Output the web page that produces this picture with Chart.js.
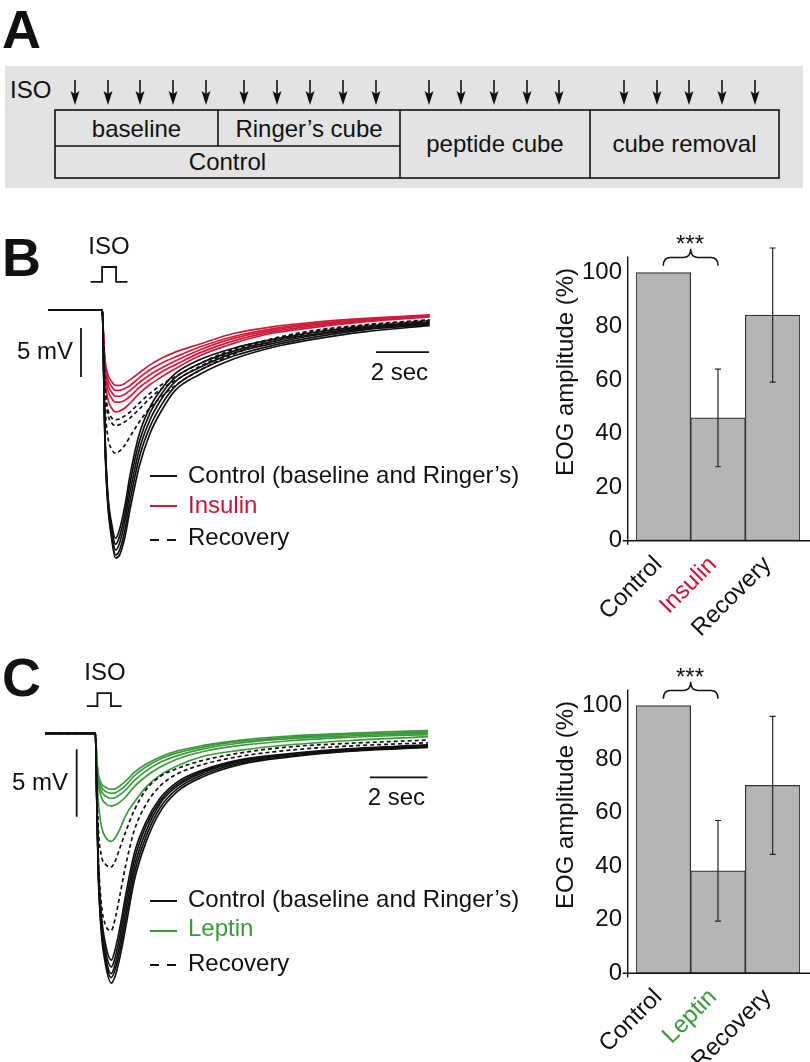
<!DOCTYPE html>
<html><head><meta charset="utf-8">
<script src="https://cdn.jsdelivr.net/npm/chart.js@4.4.1/dist/chart.umd.min.js"></script>
<style>
html,body{margin:0;padding:0;background:#fff;}
#page{position:relative;width:810px;height:1062px;overflow:hidden;font-family:"Liberation Sans",Arial,Helvetica,sans-serif;color:#111;}
.abs{position:absolute;white-space:nowrap;}
.lbl{font-size:24px;line-height:28px;}
.panel{font-size:54px;font-weight:bold;line-height:54px;}
canvas{position:absolute;}
.ln{position:absolute;height:0;border-top:2px solid #111;}
.ytitle{position:absolute;width:300px;text-align:center;font-size:24px;line-height:28px;transform:rotate(-90deg);transform-origin:50% 50%;}
</style></head><body><div id="page">

<svg class="abs" style="left:0;top:0" width="810" height="200" font-family="Liberation Sans, Arial, sans-serif" font-size="24" fill="#111">
  <rect x="5" y="66" width="798" height="122" fill="#e3e3e3"/>
  <g stroke="#111" stroke-width="1.6" fill="none">
    <rect x="55" y="110" width="724" height="68"/>
    <line x1="55" y1="146" x2="400" y2="146"/>
    <line x1="218" y1="110" x2="218" y2="146"/>
    <line x1="400" y1="110" x2="400" y2="178"/>
    <line x1="590" y1="110" x2="590" y2="178"/>
  </g>
  <text x="10" y="98">ISO</text>
  <text x="136.5" y="137" text-anchor="middle">baseline</text>
  <text x="309" y="137" text-anchor="middle">Ringer’s cube</text>
  <text x="227.5" y="170" text-anchor="middle">Control</text>
  <text x="495" y="152" text-anchor="middle">peptide cube</text>
  <text x="684.5" y="152" text-anchor="middle">cube removal</text>
  <g id="arrows"></g>
</svg>

<div class="abs panel" style="left:2px;top:230px">B</div>
<div class="abs panel" style="left:2px;top:2px">A</div>
<div class="abs panel" style="left:2px;top:650px">C</div>

<canvas id="trB" width="398" height="319" style="left:40px;top:256px;width:398px;height:319px"></canvas>
<canvas id="trC" width="401" height="312" style="left:36px;top:685px;width:401px;height:312px"></canvas>
<canvas id="barB" width="270" height="440" style="left:540px;top:220px;width:270px;height:440px"></canvas>
<canvas id="barC" width="270" height="409" style="left:540px;top:653px;width:270px;height:409px"></canvas>

<div class="abs lbl" style="left:79px;width:60px;text-align:center;top:232px">ISO</div>
<div class="abs lbl" style="left:75px;width:60px;text-align:center;top:658px">ISO</div>
<div class="abs lbl" style="left:0;width:73px;text-align:right;top:337px">5 mV</div>
<div class="abs lbl" style="left:0;width:68px;text-align:right;top:768px">5 mV</div>
<div class="abs lbl" style="left:328px;width:100px;text-align:right;top:358px">2 sec</div>
<div class="abs lbl" style="left:325px;width:100px;text-align:right;top:783px">2 sec</div>

<div class="ln" style="left:150px;width:27px;top:475px"></div>
<div class="abs lbl" style="left:188px;top:461px">Control (baseline and Ringer’s)</div>
<div class="ln" style="left:150px;width:27px;top:505px;border-color:#d01c3c"></div>
<div class="abs lbl" style="left:188px;top:491px;color:#c8163a">Insulin</div>
<div class="ln" style="left:150px;width:9px;top:539px"></div>
<div class="ln" style="left:167px;width:9px;top:539px"></div>
<div class="abs lbl" style="left:188px;top:523px">Recovery</div>

<div class="ln" style="left:150px;width:27px;top:900px"></div>
<div class="abs lbl" style="left:188px;top:885px">Control (baseline and Ringer’s)</div>
<div class="ln" style="left:150px;width:27px;top:930px;border-color:#3c9a3c"></div>
<div class="abs lbl" style="left:188px;top:914px;color:#3a9a3a">Leptin</div>
<div class="ln" style="left:150px;width:9px;top:964px"></div>
<div class="ln" style="left:167px;width:9px;top:964px"></div>
<div class="abs lbl" style="left:188px;top:949px">Recovery</div>

<div class="ytitle" style="left:415px;top:358px">EOG amplitude (%)</div>
<div class="ytitle" style="left:415px;top:791px">EOG amplitude (%)</div>
<div class="abs lbl" style="left:660px;width:60px;text-align:center;top:230px">***</div>
<div class="abs lbl" style="left:660px;width:60px;text-align:center;top:663px">***</div>

<script>
// ---------------- DATA ----------------
// Panel A: ISO application marks (one arrow per trial)
const isoArrowX = [75,108,140,173,206,244,277,310,343,376,429,461,494,527,559,624,657,689,722,755];

// Panel B traces: time (s) and EOG (mV)
const timeB = [0, 2.05, 2.10, 2.15, 2.25, 2.40, 2.55, 2.70, 2.90, 3.10, 3.45, 3.85, 4.30, 4.80, 5.70, 7.00, 8.50, 10.0, 12.0, 14.4];
const ctrlB1 = [0,0,-5.5,-12.5,-18.5,-21.8,-23.3,-22.4,-20.0,-16.8,-12.6,-9.9,-8.0,-6.5,-5.1,-3.9,-3.0,-2.3,-1.7,-1.2];
const ctrlB2 = [0,0,-5.8,-12.8,-18.8,-22.2,-23.9,-23.1,-20.8,-17.6,-13.4,-10.5,-8.5,-6.9,-5.5,-4.2,-3.2,-2.5,-1.8,-1.3];
const ctrlB3 = [0,0,-6.0,-13.0,-19.0,-22.6,-24.5,-23.8,-21.6,-18.5,-14.2,-11.2,-9.0,-7.3,-5.9,-4.4,-3.4,-2.6,-1.9,-1.4];
const ctrlB4 = [0,0,-6.2,-13.3,-19.3,-23.0,-25.0,-24.5,-22.5,-19.4,-15.0,-11.9,-9.6,-7.8,-6.2,-4.7,-3.6,-2.8,-2.0,-1.5];
const ctrlB5 = [0,0,-6.4,-13.6,-19.6,-23.3,-25.3,-25.0,-23.2,-20.3,-15.9,-12.6,-10.2,-8.2,-6.6,-5.0,-3.8,-3.0,-2.2,-1.6];
const insB1 = [0,0,-3.0,-5.0,-6.5,-7.3,-7.7,-7.7,-7.5,-7.1,-6.4,-5.6,-4.9,-4.3,-3.5,-2.4,-1.7,-1.25,-0.85,-0.5];
const insB2 = [0,0,-3.2,-5.4,-7.0,-7.8,-8.2,-8.2,-8.0,-7.7,-6.9,-6.1,-5.4,-4.8,-3.8,-2.7,-1.9,-1.4,-0.95,-0.55];
const insB3 = [0,0,-3.4,-5.8,-7.5,-8.4,-8.8,-8.8,-8.6,-8.2,-7.4,-6.6,-5.9,-5.2,-4.1,-2.9,-2.05,-1.5,-1.05,-0.6];
const insB4 = [0,0,-3.6,-6.2,-8.1,-9.0,-9.4,-9.4,-9.2,-8.8,-7.9,-7.1,-6.3,-5.6,-4.4,-3.15,-2.2,-1.65,-1.1,-0.65];
const insB5 = [0,0,-3.8,-6.8,-9.0,-10.0,-10.4,-10.3,-10.0,-9.5,-8.5,-7.6,-6.8,-6.0,-4.7,-3.4,-2.35,-1.8,-1.2,-0.7];
const recB1 = [0,0,-3.8,-7.5,-10.0,-11.0,-11.2,-11.1,-10.8,-10.4,-9.5,-8.5,-7.6,-6.8,-5.5,-4.0,-2.9,-2.1,-1.5,-1.0];
const recB2 = [0,0,-4.0,-7.9,-10.5,-11.5,-11.8,-11.7,-11.4,-11.0,-10.1,-9.0,-8.0,-7.2,-5.8,-4.2,-3.0,-2.2,-1.55,-1.05];
const recB3 = [0,0,-4.8,-9.5,-12.8,-14.2,-14.6,-14.4,-13.8,-12.9,-11.4,-10.0,-8.8,-7.7,-6.2,-4.5,-3.2,-2.35,-1.65,-1.1];

// Panel C traces
const timeC = [0, 1.75, 1.80, 1.85, 1.95, 2.10, 2.30, 2.45, 2.60, 2.80, 3.10, 3.50, 4.00, 4.60, 5.50, 6.80, 8.50, 10.5, 13.3];
const ctrlC1 = [0,0,-4.8,-9.5,-13.3,-15.6,-16.8,-15.9,-14.4,-12.0,-8.9,-6.6,-4.8,-3.6,-2.7,-1.95,-1.5,-1.15,-0.85];
const ctrlC2 = [0,0,-4.9,-9.8,-13.7,-16.1,-17.3,-16.5,-15.0,-12.6,-9.4,-6.9,-5.0,-3.75,-2.8,-2.0,-1.55,-1.2,-0.9];
const ctrlC3 = [0,0,-5.0,-10.0,-14.0,-16.5,-17.8,-17.0,-15.6,-13.2,-9.9,-7.3,-5.2,-3.9,-2.9,-2.1,-1.6,-1.25,-0.95];
const ctrlC4 = [0,0,-5.1,-10.2,-14.3,-16.8,-18.1,-17.4,-16.1,-13.8,-10.4,-7.7,-5.5,-4.1,-3.05,-2.2,-1.7,-1.3,-1.0];
const ctrlC5 = [0,0,-5.2,-10.4,-14.6,-17.1,-18.5,-17.9,-16.6,-14.4,-10.9,-8.1,-5.8,-4.3,-3.2,-2.3,-1.75,-1.35,-1.05];
const lepC1 = [0,0,-2.0,-3.0,-3.7,-4.0,-4.15,-4.1,-3.9,-3.55,-2.9,-2.3,-1.75,-1.3,-0.9,-0.5,-0.2,0.0,0.2];
const lepC2 = [0,0,-2.1,-3.2,-3.95,-4.3,-4.44,-4.4,-4.2,-3.85,-3.15,-2.5,-1.9,-1.45,-1.0,-0.6,-0.3,-0.1,0.1];
const lepC3 = [0,0,-2.2,-3.4,-4.25,-4.65,-4.81,-4.75,-4.55,-4.2,-3.5,-2.8,-2.15,-1.65,-1.15,-0.72,-0.4,-0.2,0.0];
const lepC4 = [0,0,-2.4,-3.7,-4.7,-5.2,-5.39,-5.3,-5.1,-4.7,-3.95,-3.2,-2.5,-1.9,-1.35,-0.9,-0.55,-0.3,-0.1];
const lepC5 = [0,0,-3.0,-5.0,-6.8,-7.7,-8.0,-7.7,-7.1,-6.1,-5.1,-4.0,-3.1,-2.4,-1.7,-1.25,-0.85,-0.55,-0.25];
const recC1 = [0,0,-4.0,-7.0,-9.0,-9.7,-9.9,-9.4,-8.5,-7.3,-5.7,-4.2,-3.2,-2.6,-2.0,-1.45,-1.0,-0.75,-0.5];
const recC2 = [0,0,-4.8,-9.0,-12.5,-14.2,-14.6,-13.6,-12.0,-9.8,-7.2,-5.3,-3.9,-3.0,-2.3,-1.7,-1.25,-0.95,-0.7];

// ISO stimulus on/off (s) and scale bars
const isoOnOffB = [2.04, 2.57];
const isoOnOffC = [1.82, 2.29];
const scaleMV = 5;   // vertical scale bar, mV
const scaleSec = 2;  // horizontal scale bar, s

// Bar charts
const barLabelsB = ['Control', 'Insulin', 'Recovery'];
const ampB = [100, 45.8, 84.2];
const semB = [0, 18.2, 25.0];
const barLabelsC = ['Control', 'Leptin', 'Recovery'];
const ampC = [100, 38.3, 70.2];
const semC = [0, 18.8, 25.8];
const yTicks = [0, 20, 40, 60, 80, 100];

// ---------------- DRAW ----------------
const FONT = "'Liberation Sans', Arial, sans-serif";
const RED = '#d01c3c', RED_T = '#c8163a', GREEN = '#3c9a3c', GREEN_T = '#3a9a3a', BLK = '#111';

(function(){
  const g = document.getElementById('arrows');
  let s = '';
  isoArrowX.forEach(x => {
    s += `<line x1="${x}" y1="80" x2="${x}" y2="98" stroke="#111" stroke-width="1.6"/>`;
    s += `<path d="M${x-4.5},91 L${x},105 L${x+4.5},91 L${x},94 Z" fill="#111"/>`;
  });
  g.innerHTML = s;
})();

function pts(T, V){ return T.map((t,i)=>({x:t, y:V[i]})); }

function traceChart(id, T, groups, iso, geo){
  const cv = document.getElementById(id);
  const W = cv.width, H = cv.height;
  const xmin = (0 - geo.x0)/geo.pxS, xmax = (W - geo.x0)/geo.pxS;
  const ymax = geo.y0/geo.pxV, ymin = (geo.y0 - H)/geo.pxV;
  const ds = [];
  groups.forEach(g => g.series.forEach(v => ds.push({
    data: pts(T, v), borderColor: g.color, borderWidth: 1.7, borderDash: g.dash || [],
    pointRadius: 0, cubicInterpolationMode: 'monotone', fill: false
  })));
  const lo = geo.pulseLo, hi = geo.pulseHi;
  ds.push({data:[{x:iso[0]-geo.pulsePad,y:lo},{x:iso[0],y:lo},{x:iso[0],y:hi},{x:iso[1],y:hi},{x:iso[1],y:lo},{x:iso[1]+geo.pulsePad,y:lo}],
    borderColor: BLK, borderWidth: 1.8, pointRadius: 0, tension: 0});
  ds.push({data:[{x:geo.vbarT,y:geo.vbarTop},{x:geo.vbarT,y:geo.vbarTop-scaleMV}], borderColor:BLK, borderWidth:1.8, pointRadius:0, tension:0});
  ds.push({data:[{x:geo.hbarT,y:geo.hbarV},{x:geo.hbarT+scaleSec,y:geo.hbarV}], borderColor:BLK, borderWidth:1.8, pointRadius:0, tension:0});
  new Chart(cv, {
    type: 'line',
    data: { datasets: ds },
    options: {
      responsive: false, animation: false, events: [],
      layout: { padding: 0 },
      plugins: { legend: {display:false}, tooltip: {enabled:false} },
      scales: {
        x: { type:'linear', display:false, min:xmin, max:xmax, bounds:'data' },
        y: { type:'linear', display:false, min:ymin, max:ymax, bounds:'data' }
      }
    }
  });
}

traceChart('trB', timeB, [
  {color: BLK, series: [ctrlB1, ctrlB2, ctrlB3, ctrlB4, ctrlB5]},
  {color: BLK, dash: [4,3], series: [recB1, recB2, recB3]},
  {color: RED, series: [insB1, insB2, insB3, insB4, insB5]}
], isoOnOffB, {x0: 8, pxS: 26.5, y0: 54, pxV: 9.8, pulseLo: 2.86, pulseHi: 4.39, pulsePad: 0.43,
   vbarT: 1.245, vbarTop: -1.84, hbarT: 12.38, hbarV: -4.29});

traceChart('trC', timeC, [
  {color: BLK, series: [ctrlC1, ctrlC2, ctrlC3, ctrlC4, ctrlC5]},
  {color: BLK, dash: [4,3], series: [recC1, recC2]},
  {color: GREEN, series: [lepC1, lepC2, lepC3, lepC4, lepC5]}
], isoOnOffC, {x0: 9, pxS: 28.8, y0: 48.3, pxV: 13.5, pulseLo: 2.02, pulseHi: 2.98, pulsePad: 0.37,
   vbarT: 1.10, vbarTop: -1.19, hbarT: 11.28, hbarV: -3.26});

const barDecor = {
  id: 'barDecor',
  afterDatasetsDraw(chart, args, opts){
    const {ctx, chartArea:a, scales:{x, y}} = chart;
    ctx.save();
    ctx.strokeStyle = BLK; ctx.lineWidth = 1.4;
    const ax = a.left - 8.3;
    ctx.beginPath();
    ctx.moveTo(ax, a.top); ctx.lineTo(ax, a.bottom + 4);
    ctx.moveTo(ax - 5, a.bottom); ctx.lineTo(chart.width, a.bottom);
    ctx.stroke();
    const vals = chart.data.datasets[0].data;
    ctx.lineWidth = 1.2; ctx.strokeStyle = '#222';
    opts.err.forEach((e, i) => {
      if (!e) return;
      const cx = x.getPixelForValue(i);
      const t = y.getPixelForValue(vals[i] + e), b = y.getPixelForValue(vals[i] - e);
      ctx.beginPath();
      ctx.moveTo(cx, t); ctx.lineTo(cx, b);
      ctx.moveTo(cx - 3, t); ctx.lineTo(cx + 3, t);
      ctx.moveTo(cx - 3, b); ctx.lineTo(cx + 3, b);
      ctx.stroke();
    });
    const x0 = x.getPixelForValue(0), x1 = x.getPixelForValue(1), xm = (x0 + x1)/2;
    const yb = y.getPixelForValue(102.6), ym = y.getPixelForValue(105.7), yc = y.getPixelForValue(108.9);
    const r = 7;
    ctx.lineWidth = 1.5; ctx.strokeStyle = BLK;
    ctx.beginPath();
    ctx.moveTo(x0, yb);
    ctx.quadraticCurveTo(x0, ym, x0 + r, ym);
    ctx.lineTo(xm - r, ym);
    ctx.quadraticCurveTo(xm, ym, xm, yc);
    ctx.quadraticCurveTo(xm, ym, xm + r, ym);
    ctx.lineTo(x1 - r, ym);
    ctx.quadraticCurveTo(x1, ym, x1, yb);
    ctx.stroke();
    ctx.restore();
  }
};

function barChart(id, labels, vals, err, midColor, xh){
  new Chart(document.getElementById(id), {
    type: 'bar',
    data: { labels: labels, datasets: [{ data: vals, backgroundColor: '#b5b5b5', borderColor: '#333',
      borderWidth: 1.2, borderSkipped: false, barPercentage: 1, categoryPercentage: 1 }] },
    options: {
      responsive: false, animation: false, events: [],
      layout: { padding: { left: 0, right: 10, top: 36.6, bottom: 0 } },
      plugins: { legend: {display:false}, tooltip: {enabled:false}, barDecor: { err: err } },
      scales: {
        x: { grid: {display:false, drawTicks:false}, border: {display:false},
             ticks: { autoSkip:false, maxRotation:45, minRotation:45, padding:10, labelOffset:-5,
                      font: {size:24, family:FONT}, color: c => c.index === 1 ? midColor : BLK },
             afterFit: s => { s.height = xh; } },
        y: { min: 0, max: 106, bounds:'data', grid: {display:false, drawTicks:false}, border: {display:false},
             ticks: { padding: 14, font: {size:24, family:FONT}, color: BLK },
             afterBuildTicks: s => { s.ticks = yTicks.map(v => ({value: v})); },
             afterFit: s => { s.width = 96; } }
      }
    },
    plugins: [barDecor]
  });
}
barChart('barB', barLabelsB, ampB, semB, RED_T, 119.3);
barChart('barC', barLabelsC, ampC, semC, GREEN_T, 88.7);
</script>
</div></body></html>
